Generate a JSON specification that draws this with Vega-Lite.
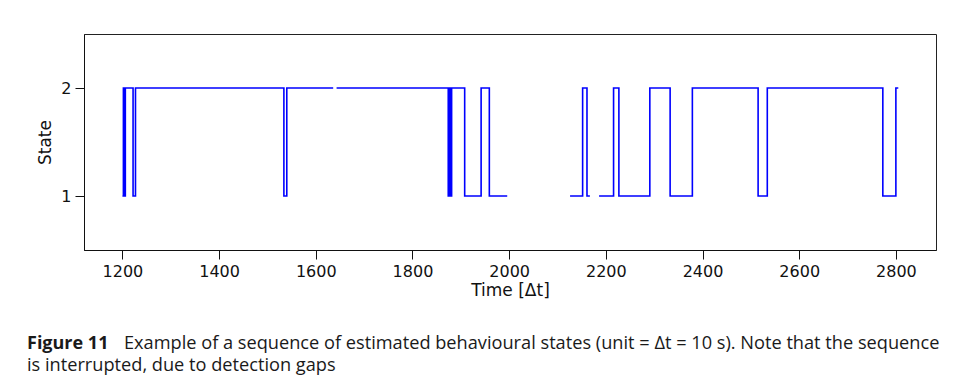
{
  "$schema": "https://vega.github.io/schema/vega-lite/v6.json",
  "width": 852,
  "height": 216,
  "autosize": {"type": "none"},
  "padding": {"left": 84, "top": 34, "right": 19, "bottom": 136},
  "background": "white",
  "title": {
    "text": "Figure 11",
    "subtitle": ["\u200b\u2003\u2003\u2003\u2003\u2003\u2004Example of a sequence of estimated behavioural states (unit = Δt = 10 s). Note that the sequence", "is interrupted, due to detection gaps"],
    "orient": "bottom",
    "anchor": "start",
    "frame": "group",
    "dx": -57,
    "offset": 37,
    "font": "Open Sans",
    "fontSize": 18,
    "fontWeight": "bold",
    "color": "#1a1a1a",
    "lineHeight": 22,
    "subtitleFont": "Open Sans",
    "subtitleFontSize": 18.2,
    "subtitleFontWeight": "normal",
    "subtitleColor": "#1a1a1a",
    "subtitleLineHeight": 22,
    "subtitlePadding": -18
  },
  "data": {
    "values": [
      {"seg": 1, "t": 1200, "state": 1},
      {"seg": 1, "t": 1202, "state": 2},
      {"seg": 1, "t": 1204, "state": 1},
      {"seg": 1, "t": 1206, "state": 2},
      {"seg": 1, "t": 1222, "state": 1},
      {"seg": 1, "t": 1227, "state": 2},
      {"seg": 1, "t": 1534, "state": 1},
      {"seg": 1, "t": 1540, "state": 2},
      {"seg": 1, "t": 1636, "state": 2},
      {"seg": 2, "t": 1643, "state": 2},
      {"seg": 2, "t": 1874, "state": 1},
      {"seg": 2, "t": 1877, "state": 2},
      {"seg": 2, "t": 1879, "state": 1},
      {"seg": 2, "t": 1881, "state": 2},
      {"seg": 2, "t": 1908, "state": 1},
      {"seg": 2, "t": 1942, "state": 2},
      {"seg": 2, "t": 1959, "state": 1},
      {"seg": 2, "t": 1996, "state": 1},
      {"seg": 3, "t": 2126, "state": 1},
      {"seg": 3, "t": 2152, "state": 2},
      {"seg": 3, "t": 2161, "state": 1},
      {"seg": 3, "t": 2167, "state": 1},
      {"seg": 4, "t": 2186, "state": 1},
      {"seg": 4, "t": 2216, "state": 2},
      {"seg": 4, "t": 2227, "state": 1},
      {"seg": 4, "t": 2291, "state": 2},
      {"seg": 4, "t": 2333, "state": 1},
      {"seg": 4, "t": 2379, "state": 2},
      {"seg": 4, "t": 2515, "state": 1},
      {"seg": 4, "t": 2534, "state": 2},
      {"seg": 4, "t": 2773, "state": 1},
      {"seg": 4, "t": 2800, "state": 2},
      {"seg": 4, "t": 2805, "state": 2}
    ]
  },
  "mark": {"type": "line", "interpolate": "step-after", "color": "#0000ff", "strokeWidth": 1.6},
  "encoding": {
    "x": {
      "field": "t",
      "type": "quantitative",
      "title": "Time [Δt]",
      "scale": {"domain": [1120.5, 2883], "nice": false, "zero": false},
      "axis": {"values": [1200, 1400, 1600, 1800, 2000, 2200, 2400, 2600, 2800], "format": "d", "grid": false, "titlePadding": 3}
    },
    "y": {
      "field": "state",
      "type": "quantitative",
      "title": "State",
      "scale": {"domain": [0.5, 2.5], "nice": false, "zero": false},
      "axis": {"values": [1, 2], "format": "d", "grid": false, "titlePadding": 6}
    },
    "detail": {"field": "seg", "type": "nominal"}
  },
  "config": {
    "view": {"stroke": "#222222", "strokeWidth": 1},
    "axis": {
      "domainColor": "#111111",
      "tickColor": "#111111",
      "tickSize": 9,
      "labelPadding": 4,
      "labelFont": "DejaVu Sans",
      "labelFontSize": 16,
      "labelColor": "#111111",
      "titleFont": "DejaVu Sans",
      "titleFontSize": 17,
      "titleFontWeight": "normal",
      "titleColor": "#111111"
    }
  }
}
